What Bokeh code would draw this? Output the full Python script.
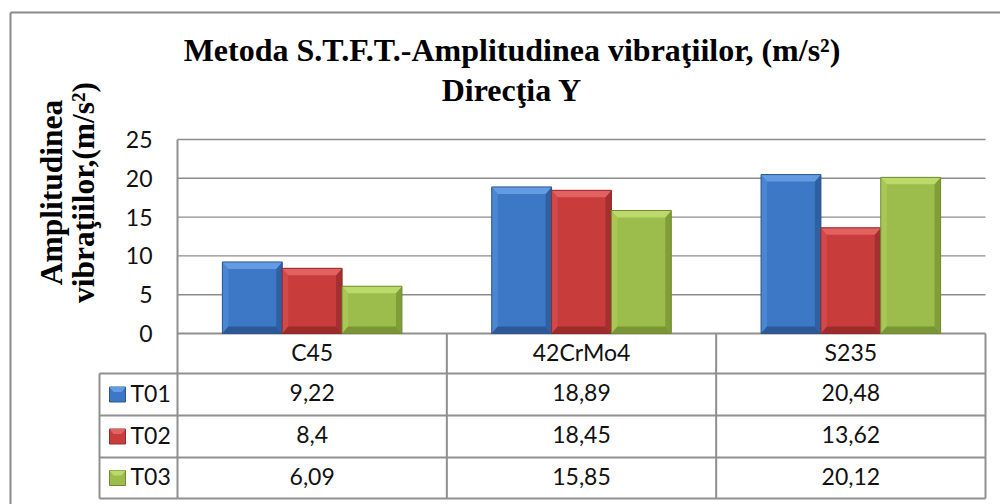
import math
from bokeh.plotting import figure
from bokeh.models import Range1d, LinearAxis, FixedTicker, ColumnDataSource
from bokeh.transform import dodge
from bokeh.core.properties import value
from bokeh.embed import file_html
from bokeh.resources import INLINE

# ---------------- data ----------------
categories = ["C45", "42CrMo4", "S235"]
series = ["T01", "T02", "T03"]
t01 = [9.22, 18.89, 20.48]
t02 = [8.4, 18.45, 13.62]
t03 = [6.09, 15.85, 20.12]
y_ticks = [0, 5, 10, 15, 20, 25]
title_line1 = "Metoda S.T.F.T.-Amplitudinea vibraţiilor, (m/s²)"
title_line2 = "Direcţia Y"
y_title_lines = ["Amplitudinea", "vibraţiilor,(m/s²)"]

# ---------------- layout (canvas pixels) ----------------
W, H = 1000, 504
PX0, PY0 = 0, 0
PLOT_L, PLOT_R = 177, 985
Y_ZERO_PX, Y_TOP_PX = 333, 139
Y_MAX = 25
TABLE_ROWS = [333, 373, 415, 457, 498]
LABEL_COL_L = 99

unit_x = (PLOT_R - PLOT_L) / len(categories)
unit_y = (Y_ZERO_PX - Y_TOP_PX) / Y_MAX
x_start = (PX0 - PLOT_L) / unit_x
x_end = len(categories) + (PX0 + W - PLOT_R) / unit_x
y_end = Y_MAX + (Y_TOP_PX - PY0) / unit_y
y_start = -(PY0 + H - Y_ZERO_PX) / unit_y

p = figure(width=W, height=H,
           x_range=Range1d(x_start, x_end), y_range=Range1d(y_start, y_end),
           x_axis_type=None, y_axis_type=None,
           toolbar_location=None, output_backend="svg")
p.min_border = 0
p.min_border_left = 0
p.min_border_right = 0
p.min_border_top = 0
p.min_border_bottom = 0
p.outline_line_color = None
p.background_fill_color = "white"
p.border_fill_color = "white"
p.extra_x_ranges = {"px": Range1d(PX0, PX0 + W)}
p.extra_y_ranges = {"px": Range1d(PY0 + H, PY0)}

GRID = "#8c8c8c"
TBL = "#8f8f8f"
SANS = value("Lato")
SERIF = value("Liberation Serif")

# outer chart border (left and top visible)
p.segment(x0=[10, 10], y0=[12, 12], x1=[10, PX0 + W], y1=[PY0 + H, 12],
          x_range_name="px", y_range_name="px", line_color="#8a8a8a", line_width=2)

# horizontal gridlines
gl = [t for t in y_ticks if t > 0]
p.segment(x0=[0] * len(gl), x1=[len(categories)] * len(gl), y0=gl, y1=gl,
          line_color=GRID, line_width=1.4)

# y axis at the left edge of the plot area
ax = LinearAxis(fixed_location=0, ticker=FixedTicker(ticks=y_ticks))
ax.axis_line_color = None
ax.major_tick_line_color = None
ax.minor_tick_line_color = None
ax.major_tick_out = 0
ax.major_tick_in = 0
ax.major_label_standoff = 25
ax.major_label_text_font = "Lato"
ax.major_label_text_font_size = "23px"
ax.major_label_text_color = "#111111"
p.add_layout(ax, "left")

# ---------------- data table grid ----------------
ncat = len(categories)
p.segment(x0=list(range(ncat + 1)), x1=list(range(ncat + 1)),
          y0=[Y_TOP_PX] + [TABLE_ROWS[0]] * ncat, y1=[TABLE_ROWS[-1]] * (ncat + 1),
          y_range_name="px", line_color=TBL, line_width=2)
p.segment(x0=[0], x1=[ncat], y0=[TABLE_ROWS[0]], y1=[TABLE_ROWS[0]],
          y_range_name="px", line_color=TBL, line_width=2)
p.segment(x0=[0] * 4, x1=[ncat] * 4, y0=TABLE_ROWS[1:], y1=TABLE_ROWS[1:],
          y_range_name="px", line_color=TBL, line_width=2)
p.segment(x0=[LABEL_COL_L] * 4 + [LABEL_COL_L], x1=[PLOT_L] * 4 + [LABEL_COL_L],
          y0=TABLE_ROWS[1:] + [TABLE_ROWS[1]], y1=TABLE_ROWS[1:] + [TABLE_ROWS[-1]],
          x_range_name="px", y_range_name="px", line_color=TBL, line_width=2)

# ---------------- bars ----------------
values = [t01, t02, t03]
styles = [
    dict(body="#3c78c6", top="#639ce2", left="#4a86d1", right="#2f60a2", bottom="#2c5995", line="#2b5690"),
    dict(body="#c83c3c", top="#e26262", left="#d24949", right="#a33030", bottom="#9c2c2c", line="#952a2a"),
    dict(body="#9cbd4b", top="#bcda6a", left="#a8c757", right="#809d37", bottom="#7a9533", line="#718b33"),
]
bw = 1 / 4.5
dx = 6 / unit_x
dy = 7 / unit_y
xc = [i + 0.5 for i in range(ncat)]
for j, (name, vals, st) in enumerate(zip(series, values, styles)):
    off = (j - 1) * bw
    src = ColumnDataSource(dict(x=xc, top=vals))
    p.vbar(x=dodge("x", off, range=p.x_range), top="top", bottom=0, width=bw, source=src,
           fill_color=st["body"], line_color=None)
    txs, tys, lxs, lys, rxs, rys, bxs, bys = [], [], [], [], [], [], [], []
    for c, v in zip(xc, vals):
        L = c + off - bw / 2
        R = c + off + bw / 2
        txs.append([L, R, R - dx, L + dx]); tys.append([v, v, v - dy, v - dy])
        lxs.append([L, L + dx, L + dx, L]); lys.append([v, v - dy, dy, 0])
        rxs.append([R, R, R - dx, R - dx]); rys.append([v, 0, dy, v - dy])
        bxs.append([L, L + dx, R - dx, R]); bys.append([0, dy, dy, 0])
    p.patches(xs=lxs, ys=lys, fill_color=st["left"], line_color=None)
    p.patches(xs=rxs, ys=rys, fill_color=st["right"], line_color=None)
    p.patches(xs=bxs, ys=bys, fill_color=st["bottom"], line_color=None)
    p.patches(xs=txs, ys=tys, fill_color=st["top"], line_color=None)
    p.vbar(x=dodge("x", off, range=p.x_range), top="top", bottom=0, width=bw, source=src,
           fill_color=None, line_color=st["line"], line_width=1)

# ---------------- table texts ----------------
TXT_DY = -1.7  # baseline offset from row centre (renderer-specific)
hdr_y = (TABLE_ROWS[0] + TABLE_ROWS[1]) / 2 + TXT_DY
p.text(x=xc, y=[hdr_y] * ncat, text=categories, y_range_name="px",
       text_font=SANS, text_font_size=value("23px"), text_color="#111111",
       text_align="center", text_baseline="alphabetic")

def fmt(v):
    return ("%g" % v).replace(".", ",")

for j, (name, vals, st) in enumerate(zip(series, values, styles)):
    top_px, bot_px = TABLE_ROWS[j + 1], TABLE_ROWS[j + 2]
    mid = (top_px + bot_px) / 2
    p.text(x=xc, y=[mid + TXT_DY] * ncat, text=[fmt(v) for v in vals], y_range_name="px",
           text_font=SANS, text_font_size=value("23px"), text_color="#111111",
           text_align="center", text_baseline="alphabetic")
    p.text(x=[130], y=[mid + TXT_DY], text=[name], x_range_name="px", y_range_name="px",
           text_font=SANS, text_font_size=value("23px"), text_color="#111111",
           text_align="left", text_baseline="alphabetic")
    sl, sr, stp, sb = 109, 125, mid - 7.5, mid + 7.5
    p.quad(left=[sl], right=[sr], top=[stp], bottom=[sb], x_range_name="px", y_range_name="px",
           fill_color=st["body"], line_color=st["line"], line_width=1)
    p.patches(xs=[[sl, sr, sr - 4, sl + 4]], ys=[[stp, stp, stp + 5, stp + 5]],
              x_range_name="px", y_range_name="px", fill_color=st["top"], line_color=None)

# ---------------- titles ----------------
p.text(x=[511.5, 511.5], y=[49.7, 89], text=[title_line1, title_line2],
       x_range_name="px", y_range_name="px",
       text_font=SERIF, text_font_style="bold", text_font_size=value("32px"),
       text_color="#000000", text_align="center", text_baseline="alphabetic")
p.text(x=[51, 82.5], y=[192, 192], text=y_title_lines, angle=math.pi / 2,
       x_range_name="px", y_range_name="px",
       text_font=SERIF, text_font_style="bold", text_font_size=value("31.5px"),
       text_color="#000000", text_align="center", text_baseline="alphabetic")

open("out.html", "w").write(file_html(p, INLINE))
